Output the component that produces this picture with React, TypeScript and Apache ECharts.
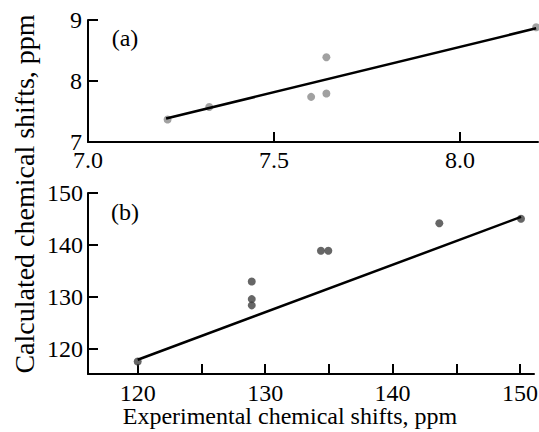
import React, { useEffect, useRef } from "react";
import * as echarts from "echarts";

// Panel (a): 1H shifts
const expA: number[] = [7.214, 7.326, 7.6, 7.641, 7.641, 8.205];
const calcA: number[] = [7.37, 7.575, 7.74, 7.795, 8.39, 8.88];
const fitA: number[][] = [[7.21, 7.385], [8.205, 8.864]];

// Panel (b): 13C shifts
const expB: number[] = [120.0, 128.95, 128.95, 128.95, 134.38, 134.96, 143.67, 150.08];
const calcB: number[] = [117.6, 133.0, 129.6, 128.4, 138.9, 138.9, 144.2, 145.06];
const fitB: number[][] = [[120.0, 117.94], [150.08, 145.4]];

const ticksAX: number[] = [7.5, 8.0];
const labelsAX: number[] = [7.0, 7.5, 8.0];
const ticksAY: number[] = [8, 9];
const labelsAY: number[] = [7, 8, 9];
const ticksBX: number[] = [120, 125, 130, 135, 140, 145, 150];
const labelsBX: number[] = [120, 130, 140, 150];
const ticksBY: number[] = [120, 130, 140, 150];
const labelsBY: number[] = [120, 130, 140, 150];

const FONT = "Liberation Serif";

export default function App() {
  const ref = useRef<HTMLDivElement>(null);
  useEffect(() => {
    if (!ref.current) return;
    const chart = echarts.init(ref.current, undefined, { renderer: "svg" });
    const axisCommon = {
      axisLine: { show: true, onZero: false, lineStyle: { color: "#000", width: 2 } },
      splitLine: { show: false },
    };
    const tick = (vals: number[]) => ({
      show: true,
      inside: true,
      length: 10,
      lineStyle: { color: "#000", width: 2 },
      customValues: vals,
    });
    const label = (vals: number[], margin: number, digits: number) => ({
      show: true,
      color: "#000",
      fontFamily: FONT,
      fontSize: 24,
      lineHeight: 18,
      margin,
      customValues: vals,
      formatter: (v: number) => "{s|" + Number(v).toFixed(digits) + "}",
      rich: {
        s: { fontFamily: FONT, fontSize: 24, lineHeight: 18, color: "#000" },
      },
    });
    chart.setOption({
      animation: false,
      backgroundColor: "#fff",
      textStyle: { fontFamily: FONT },
      grid: [
        { left: 88, top: 20, width: 450, height: 122, containLabel: false, outerBoundsMode: "none" },
        { left: 88, top: 193, width: 446, height: 181, containLabel: false, outerBoundsMode: "none" },
      ],
      xAxis: [
        {
          type: "value", gridIndex: 0, min: 7, max: 8.21, ...axisCommon,
          axisTick: tick(ticksAX),
          axisLabel: label(labelsAX, 9, 1),
        },
        {
          type: "value", gridIndex: 1, min: 116.1, max: 151.1, ...axisCommon,
          axisTick: tick(ticksBX),
          axisLabel: label(labelsBX, 10, 0),
        },
      ],
      yAxis: [
        {
          type: "value", gridIndex: 0, min: 7, max: 9, ...axisCommon,
          axisTick: tick(ticksAY),
          axisLabel: label(labelsAY, 6, 0),
        },
        {
          type: "value", gridIndex: 1, min: 115.2, max: 150, ...axisCommon,
          axisTick: tick(ticksBY),
          axisLabel: label(labelsBY, 5, 0),
        },
      ],
      series: [
        {
          type: "scatter", xAxisIndex: 0, yAxisIndex: 0, symbolSize: 8,
          itemStyle: { color: "#8a8a8a" },
          data: expA.map((x, i) => [x, calcA[i]]), z: 2,
        },
        {
          type: "line", xAxisIndex: 0, yAxisIndex: 0, showSymbol: false,
          lineStyle: { color: "#000", width: 2.5 }, data: fitA, z: 3,
        },
        {
          type: "scatter", xAxisIndex: 1, yAxisIndex: 1, symbolSize: 8,
          itemStyle: { color: "#404040" },
          data: expB.map((x, i) => [x, calcB[i]]), z: 2,
        },
        {
          type: "line", xAxisIndex: 1, yAxisIndex: 1, showSymbol: false,
          lineStyle: { color: "#000", width: 2.5 }, data: fitB, z: 3,
        },
      ],
      graphic: [
        {
          type: "text", x: 125, y: 38,
          style: { text: "(a)", fontFamily: FONT, fontSize: 24, fill: "#000", align: "center", verticalAlign: "middle" },
        },
        {
          type: "text", x: 125, y: 212,
          style: { text: "(b)", fontFamily: FONT, fontSize: 24, fill: "#000", align: "center", verticalAlign: "middle" },
        },
        {
          type: "text", x: 290, y: 416,
          style: { text: "Experimental chemical shifts, ppm", fontFamily: FONT, fontSize: 24, lineHeight: 18, fill: "#000", align: "center", verticalAlign: "middle" },
        },
        {
          type: "text", x: 24, y: 194, rotation: Math.PI / 2,
          style: { text: "Calculated chemical shifts, ppm", fontFamily: FONT, fontSize: 28, fill: "#000", align: "center", verticalAlign: "middle" },
        },
      ],
    });
    return () => chart.dispose();
  }, []);
  return <div ref={ref} style={{ position: "fixed", left: 0, top: 0, width: 539, height: 432 }} />;
}
